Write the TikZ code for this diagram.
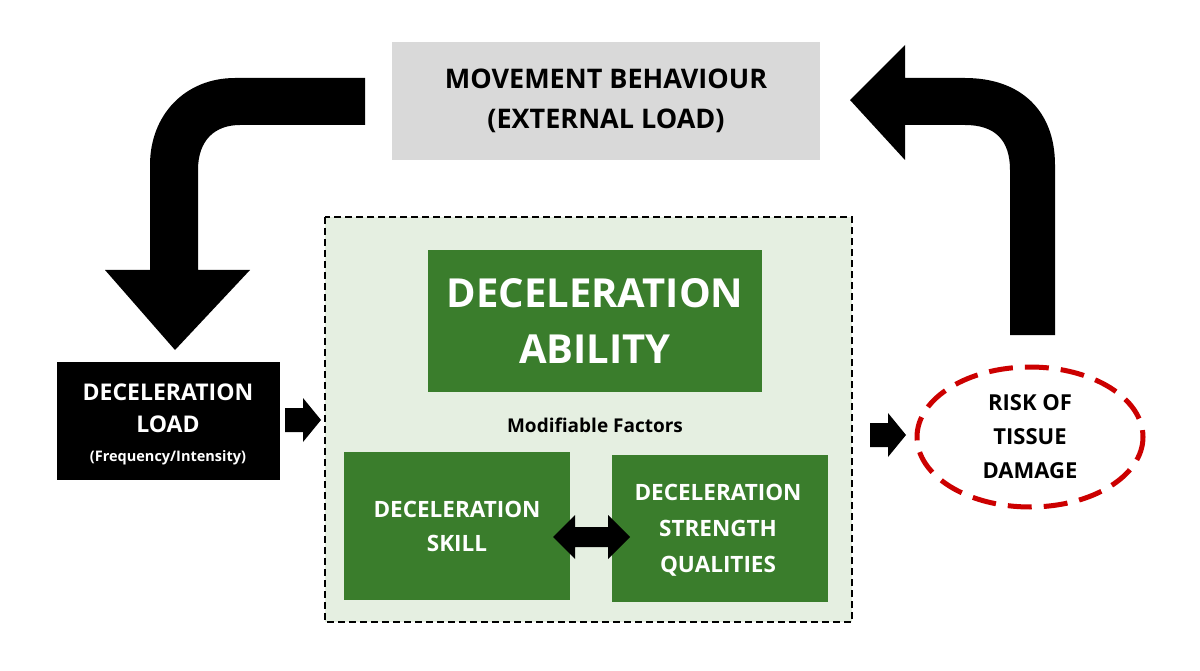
\documentclass[tikz,border=0pt]{standalone}
\usepackage{fontspec}
\setmainfont{Open Sans}
\definecolor{gr}{HTML}{3A7D2C}
\definecolor{pale}{HTML}{E5EFE1}
\begin{document}
\begin{tikzpicture}[x=1pt,y=-1pt,
  lbl/.style={align=center, text=black}]
\useasboundingbox (0,0) rectangle (1200,671);
\fill[white] (0,0) rectangle (1200,671);
% top box
\fill[gray!30] (392,42) rectangle (820,160);
\node[lbl, font=\bfseries\fontsize{27}{40}\selectfont] (top) at (606,101) {MOVEMENT BEHAVIOUR\\(EXTERNAL LOAD)};
% curved arrows
\fill[black] (365,78) -- (235,78) .. controls (185,78) and (150,115) .. (150,165) -- (150,270) -- (105,270) -- (175,350) -- (250,270) -- (198,270) -- (198,170) .. controls (198,140) and (215,125) .. (240,125) -- (365,125) -- cycle;
\fill[black] (1010,335) -- (1010,170) .. controls (1010,140) and (995,125) .. (965,125) -- (905,125) -- (905,160) -- (850,100) -- (905,45) -- (905,78) -- (965,78) .. controls (1020,78) and (1055,110) .. (1055,165) -- (1055,335) -- cycle;
% load box
\fill[black] (57,362) rectangle (280,480);
\node[align=center, text=white, font=\bfseries\fontsize{23}{32}\selectfont] (load) at (168,408) {DECELERATION\\LOAD};
\node[text=white, font=\bfseries\fontsize{14.5}{17}\selectfont] (freq) at (168,458) {(Frequency/Intensity)};
% small arrows
\fill[black] (285,408) -- (303,408) -- (303,398) -- (321,420) -- (303,442) -- (303,432) -- (285,432) -- cycle;
\fill[black] (870,423) -- (888,423) -- (888,413) -- (906,435) -- (888,457) -- (888,447) -- (870,447) -- cycle;
% dashed container
\draw[line width=1.8pt, dash pattern=on 7pt off 4pt, fill=pale] (325,217) rectangle (852,622);
\fill[gr] (428,250) rectangle (762,392);
\node[text=white, font=\bfseries\fontsize{40}{56}\selectfont, align=center] (abil) at (595,321) {DECELERATION\\ABILITY};
\node[lbl, font=\bfseries\fontsize{19}{22}\selectfont] (mod) at (595,425) {Modifiable Factors};
\fill[gr] (344,452) rectangle (570,600);
\node[text=white, font=\bfseries\fontsize{22.5}{34}\selectfont, align=center] (skill) at (457,526) {DECELERATION\\SKILL};
\fill[gr] (612,455) rectangle (828,602);
\node[text=white, font=\bfseries\fontsize{22.5}{36}\selectfont, align=center] (str) at (718,530) {DECELERATION\\STRENGTH\\QUALITIES};
% double arrow
\fill[black] (553,537) -- (575,515) -- (575,527) -- (608,527) -- (608,515) -- (630,537) -- (608,559) -- (608,547) -- (575,547) -- (575,559) -- cycle;
% ellipse
\draw[red!80!black, line width=5pt, dash pattern=on 24pt off 12pt] (1030,437) ellipse [x radius=113, y radius=70];
\node[lbl, font=\bfseries\fontsize{22}{34}\selectfont] (risk) at (1030,437) {RISK OF\\TISSUE\\DAMAGE};
\end{tikzpicture}
\end{document}
